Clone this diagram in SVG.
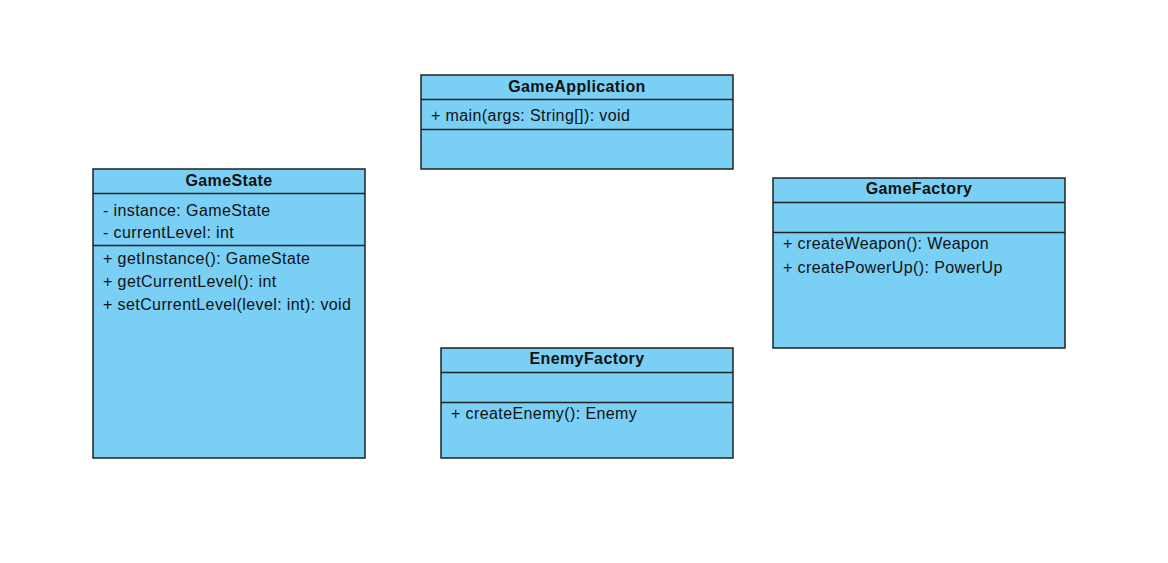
<svg xmlns="http://www.w3.org/2000/svg" width="1168" height="563" viewBox="0 0 1168 563">
<style>
.box{fill:#79CFF4;stroke:#222;stroke-width:1.5}
.ln{stroke:#222;stroke-width:1.5}
.t{font-family:"Liberation Sans",Arial,sans-serif;font-size:16px;letter-spacing:0.4px;fill:#111}
.h{font-weight:bold;text-anchor:middle}
</style>
<rect width="1168" height="563" fill="#fff"/>
<g id="GameApplication">
<rect class="box" x="421" y="75" width="312" height="94"/>
<line class="ln" x1="421" y1="99.5" x2="733" y2="99.5"/>
<line class="ln" x1="421" y1="129.5" x2="733" y2="129.5"/>
<text class="t h" x="577" y="92">GameApplication</text>
<text class="t" x="431" y="121">+ main(args: String[]): void</text>
</g>
<g id="GameState">
<rect class="box" x="93" y="169" width="272" height="289"/>
<line class="ln" x1="93" y1="193.5" x2="365" y2="193.5"/>
<line class="ln" x1="93" y1="245.5" x2="365" y2="245.5"/>
<text class="t h" x="229" y="186">GameState</text>
<text class="t" x="103" y="216">- instance: GameState</text>
<text class="t" x="103" y="238">- currentLevel: int</text>
<text class="t" x="103" y="264">+ getInstance(): GameState</text>
<text class="t" x="103" y="287">+ getCurrentLevel(): int</text>
<text class="t" x="103" y="310">+ setCurrentLevel(level: int): void</text>
</g>
<g id="GameFactory">
<rect class="box" x="773" y="178" width="292" height="170"/>
<line class="ln" x1="773" y1="202.5" x2="1065" y2="202.5"/>
<line class="ln" x1="773" y1="232.5" x2="1065" y2="232.5"/>
<text class="t h" x="919" y="194">GameFactory</text>
<text class="t" x="783" y="249">+ createWeapon(): Weapon</text>
<text class="t" x="783" y="273">+ createPowerUp(): PowerUp</text>
</g>
<g id="EnemyFactory">
<rect class="box" x="441" y="348" width="292" height="110"/>
<line class="ln" x1="441" y1="372.5" x2="733" y2="372.5"/>
<line class="ln" x1="441" y1="402.5" x2="733" y2="402.5"/>
<text class="t h" x="587" y="364">EnemyFactory</text>
<text class="t" x="451" y="419">+ createEnemy(): Enemy</text>
</g>
<g id="connectors"/>
</svg>
